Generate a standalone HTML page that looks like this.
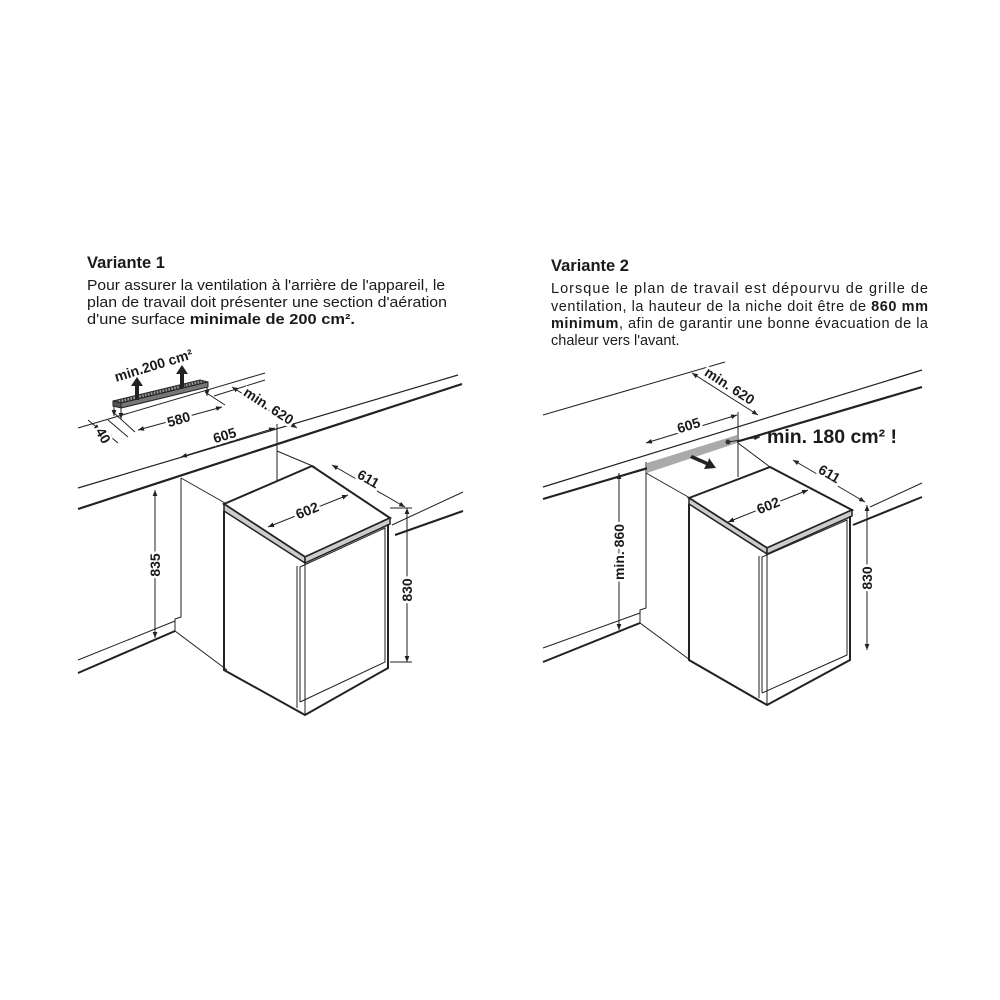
<!DOCTYPE html>
<html><head><meta charset="utf-8"><style>
html,body{margin:0;padding:0;background:#fff;}
svg{display:block;}
text{font-family:"Liberation Sans",Arial,sans-serif;fill:#1a1a1a;}
</style></head><body>
<svg width="1000" height="1000" viewBox="0 0 1000 1000" xmlns="http://www.w3.org/2000/svg">
<defs>
<marker id="a" viewBox="0 0 10 10" refX="10" refY="5" markerWidth="6" markerHeight="6" orient="auto-start-reverse"><path d="M0,1 L10,5 L0,9 z" fill="#222"/></marker>
<pattern id="h" width="3" height="3" patternUnits="userSpaceOnUse" patternTransform="rotate(-13)"><rect width="3" height="3" fill="#999"/><rect width="1.4" height="3" fill="#333"/></pattern>
</defs>

<!-- TEXT LEFT -->
<text x="87" y="268" font-size="16.5" font-weight="bold">Variante 1</text>
<text x="87" y="290" font-size="14.5" textLength="358" lengthAdjust="spacingAndGlyphs">Pour assurer la ventilation à l'arrière de l'appareil, le</text>
<text x="87" y="307" font-size="14.5" textLength="360" lengthAdjust="spacingAndGlyphs">plan de travail doit présenter une section d'aération</text>
<text x="87" y="324" font-size="14.5" textLength="268" lengthAdjust="spacingAndGlyphs">d'une surface <tspan font-weight="bold">minimale de 200 cm².</tspan></text>

<!-- TEXT RIGHT -->
<text x="551" y="271" font-size="16.5" font-weight="bold">Variante 2</text>
<text x="551" y="293" font-size="14.5" textLength="377" lengthAdjust="spacing">Lorsque le plan de travail est dépourvu de grille de</text>
<text x="551" y="311" font-size="14.5" textLength="377" lengthAdjust="spacing">ventilation, la hauteur de la niche doit être de <tspan font-weight="bold">860 mm</tspan></text>
<text x="551" y="328" font-size="14.5" textLength="377" lengthAdjust="spacing"><tspan font-weight="bold">minimum</tspan>, afin de garantir une bonne évacuation de la</text>
<text x="551" y="345" font-size="14.5">chaleur vers l'avant.</text>

<g fill="none" stroke="#222" stroke-width="1">
<!-- LEFT DIAGRAM -->
<line x1="78" y1="428" x2="265" y2="373"/>
<line x1="78" y1="488" x2="458" y2="375" stroke-width="1.2"/>
<line x1="78" y1="509" x2="462" y2="384" stroke-width="2.2"/>
<line x1="392" y1="525" x2="463" y2="492"/>
<line x1="395" y1="535" x2="463" y2="511" stroke-width="2"/>
<line x1="78" y1="660" x2="175" y2="621"/>
<line x1="78" y1="673" x2="175" y2="631" stroke-width="2"/>
<polyline points="181,478 181,617 175,619 175,631 227,670"/>
<line x1="181" y1="478" x2="225" y2="503"/>
<line x1="277" y1="424" x2="277" y2="482"/>
<line x1="277" y1="451" x2="315" y2="467"/>
<!-- fridge -->
<polygon points="224,504 312,466 390,518 305,557" fill="#fff" stroke-width="2"/>
<polygon points="224,504 305,557 305,563 224,511" fill="#ccc" stroke-width="1.5"/>
<polygon points="305,557 390,518 390,524 305,563" fill="#ccc" stroke-width="1.5"/>
<polyline points="224,511 224,670 305,715 388,668 388,524" stroke-width="2"/>
<line x1="305" y1="563" x2="305" y2="715" stroke-width="1"/>
<polyline points="300,702 300,567 385,528 385,662 300,702" stroke-width="1"/>
<line x1="297" y1="566" x2="297" y2="708"/>
<!-- dims left -->
<line x1="155" y1="490" x2="155" y2="638" marker-start="url(#a)" marker-end="url(#a)"/>
<line x1="407" y1="508" x2="407" y2="662" marker-start="url(#a)" marker-end="url(#a)"/>
<line x1="390" y1="508" x2="412" y2="508"/><line x1="390" y1="662" x2="412" y2="662"/>
<line x1="181" y1="457" x2="275" y2="428" marker-start="url(#a)" marker-end="url(#a)"/>
<line x1="332" y1="465" x2="405" y2="507" marker-start="url(#a)" marker-end="url(#a)"/>
<line x1="268" y1="527" x2="348" y2="495" marker-start="url(#a)" marker-end="url(#a)"/>
<line x1="232" y1="387" x2="297" y2="428" marker-start="url(#a)" marker-end="url(#a)"/>
<line x1="214" y1="396" x2="265" y2="380"/>
<line x1="138" y1="430" x2="222" y2="407" marker-start="url(#a)" marker-end="url(#a)"/>
<line x1="113" y1="412" x2="135" y2="432"/><line x1="205" y1="392" x2="225" y2="405"/>
<line x1="88" y1="420" x2="100" y2="430" marker-end="url(#a)"/>
<line x1="118" y1="443" x2="106" y2="433" marker-end="url(#a)"/>
<line x1="108" y1="420" x2="128" y2="437"/>
<!-- RIGHT DIAGRAM -->
<line x1="543" y1="415" x2="725" y2="362"/>
<line x1="543" y1="487" x2="922" y2="370" stroke-width="1.2"/>
<line x1="543" y1="499" x2="922" y2="387" stroke-width="2.2"/>
<line x1="870" y1="507" x2="922" y2="483"/>
<line x1="853" y1="525" x2="922" y2="497" stroke-width="2"/>
<line x1="543" y1="648" x2="640" y2="613"/>
<line x1="543" y1="662" x2="640" y2="623" stroke-width="2"/>
<polyline points="646,462 646,608 640,610 640,623 690,660"/>
<polygon points="647,463 737,435 737,443 647,473" fill="#aaa" stroke="none"/>
<line x1="646" y1="473" x2="690" y2="498"/>
<line x1="738" y1="412" x2="738" y2="477"/>
<line x1="738" y1="443" x2="770" y2="467"/>
<polygon points="689,498 770,467 852,510 767,548" fill="#fff" stroke-width="2"/>
<polygon points="689,498 767,548 767,554 689,504" fill="#ccc" stroke-width="1.5"/>
<polygon points="767,548 852,510 852,516 767,554" fill="#ccc" stroke-width="1.5"/>
<polyline points="689,504 689,660 767,705 850,660 850,516" stroke-width="2"/>
<line x1="767" y1="554" x2="767" y2="705"/>
<polyline points="762,693 762,557 847,520 847,655 762,693"/>
<line x1="759" y1="556" x2="759" y2="698"/>
<line x1="619" y1="473" x2="619" y2="630" marker-start="url(#a)" marker-end="url(#a)"/>
<line x1="867" y1="505" x2="867" y2="650" marker-start="url(#a)" marker-end="url(#a)"/>
<line x1="646" y1="443" x2="737" y2="415" marker-start="url(#a)" marker-end="url(#a)"/>
<line x1="692" y1="373" x2="758" y2="415" marker-start="url(#a)" marker-end="url(#a)"/>
<line x1="793" y1="460" x2="865" y2="502" marker-start="url(#a)" marker-end="url(#a)"/>
<line x1="728" y1="522" x2="808" y2="490" marker-start="url(#a)" marker-end="url(#a)"/>
<line x1="728" y1="442" x2="760" y2="437" marker-end="url(#a)"/>
</g>
<circle cx="728" cy="442" r="2.5" fill="#333"/>
<path d="M692,455 L708,462 L709,458 L716,468 L704,469 L706,465 L690,458z" fill="#222"/>
<!-- grille -->
<polygon points="113,401 200,380 208,382 121,403" fill="url(#h)" stroke="#222" stroke-width="1"/>
<polygon points="113,401 121,403 121,408 113,406" fill="#555" stroke="#222" stroke-width="1"/>
<polygon points="121,403 208,382 208,387 121,408" fill="#777" stroke="#222" stroke-width="1"/>
<line x1="114" y1="406" x2="114" y2="416" stroke="#222" marker-end="url(#a)"/>
<line x1="121" y1="408" x2="121" y2="419" stroke="#222" marker-end="url(#a)"/>
<line x1="207" y1="387" x2="207" y2="396" stroke="#222" marker-end="url(#a)"/>
<path d="M135,400 v-14 h-4 l6,-9 l6,9 h-4 v14z" fill="#222"/>
<path d="M180,388 v-14 h-4 l6,-9 l6,9 h-4 v14z" fill="#222"/>

<g font-weight="bold" font-size="14">
<text transform="translate(155,565) rotate(-90)" text-anchor="middle" dy="5" style="paint-order:stroke" stroke="#fff" stroke-width="5">835</text>
<text transform="translate(407,590) rotate(-90)" text-anchor="middle" dy="5" style="paint-order:stroke" stroke="#fff" stroke-width="5">830</text>
<text transform="translate(226,440) rotate(-17)" text-anchor="middle" style="paint-order:stroke" stroke="#fff" stroke-width="5">605</text>
<text transform="translate(366,483) rotate(30)" text-anchor="middle" style="paint-order:stroke" stroke="#fff" stroke-width="5">611</text>
<text transform="translate(309,515) rotate(-22)" text-anchor="middle" style="paint-order:stroke" stroke="#fff" stroke-width="5">602</text>
<text transform="translate(266,410) rotate(33)" text-anchor="middle" style="paint-order:stroke" stroke="#fff" stroke-width="5">min. 620</text>
<text transform="translate(180,424) rotate(-16)" text-anchor="middle" style="paint-order:stroke" stroke="#fff" stroke-width="5">580</text>
<text transform="translate(99,438) rotate(60)" text-anchor="middle" style="paint-order:stroke" stroke="#fff" stroke-width="5">40</text>
<text transform="translate(155,370) rotate(-17)" text-anchor="middle">min.200 cm²</text>

<text transform="translate(619,552) rotate(-90)" text-anchor="middle" dy="5" style="paint-order:stroke" stroke="#fff" stroke-width="5">min. 860</text>
<text transform="translate(867,578) rotate(-90)" text-anchor="middle" dy="5" style="paint-order:stroke" stroke="#fff" stroke-width="5">830</text>
<text transform="translate(690,430) rotate(-17)" text-anchor="middle" style="paint-order:stroke" stroke="#fff" stroke-width="5">605</text>
<text transform="translate(727,390) rotate(33)" text-anchor="middle" style="paint-order:stroke" stroke="#fff" stroke-width="5">min. 620</text>
<text transform="translate(827,478) rotate(30)" text-anchor="middle" style="paint-order:stroke" stroke="#fff" stroke-width="5">611</text>
<text transform="translate(770,510) rotate(-22)" text-anchor="middle" style="paint-order:stroke" stroke="#fff" stroke-width="5">602</text>
<text x="767" y="443" font-size="19.5">min. 180 cm² !</text>
</g>
</svg>
</body></html>
